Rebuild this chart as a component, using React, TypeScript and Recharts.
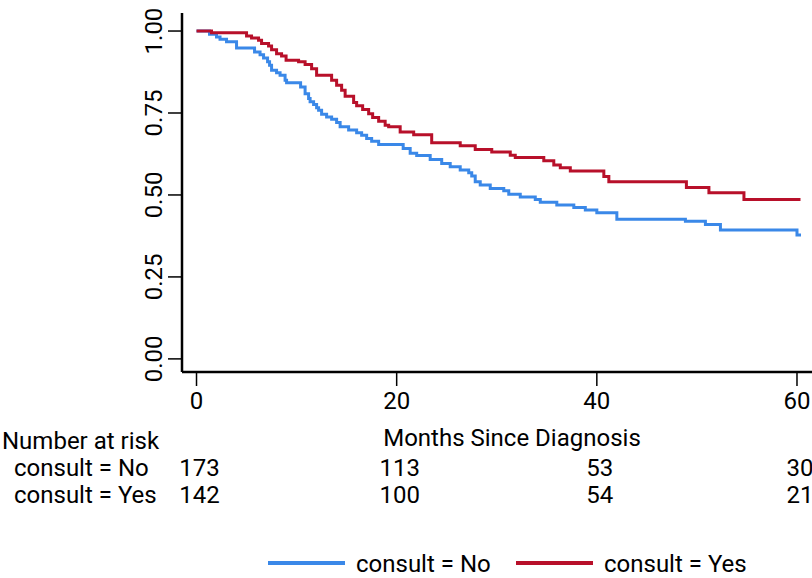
import { Legend, Line, LineChart, XAxis, YAxis } from 'recharts'

// Kaplan-Meier estimates (time in months, survival prob)
const noTimes = [
  0, 1.3, 2.0, 2.35, 3.0, 4.0, 5.8, 6.35, 6.7, 7.1, 7.3, 7.5, 8.0, 8.35, 8.85,
  9.0, 10.4, 10.85, 11.2, 11.35, 11.7, 12.0, 12.2, 12.5, 13.0, 13.5, 14.0,
  14.35, 15.2, 16.0, 16.5, 17.0, 17.5, 18.2, 20.65, 21.35, 22.0, 23.35, 24.5,
  25.35, 26.35, 27.2, 27.5, 27.85, 28.35, 29.35, 30.7, 31.2, 32.35, 33.85,
  34.35, 36.0, 37.7, 38.85, 40.0, 42.0, 48.85, 50.85, 52.35, 60.0, 60.4,
]
const noSurv = [
  1.0, 0.99, 0.982, 0.975, 0.967, 0.948, 0.936, 0.928, 0.918, 0.906, 0.896,
  0.88, 0.873, 0.865, 0.85, 0.842, 0.829, 0.809, 0.794, 0.784, 0.776, 0.766,
  0.758, 0.746, 0.738, 0.731, 0.721, 0.708, 0.698, 0.69, 0.682, 0.672, 0.664,
  0.654, 0.642, 0.627, 0.62, 0.608, 0.596, 0.586, 0.576, 0.568, 0.558, 0.54,
  0.53, 0.52, 0.513, 0.502, 0.494, 0.486, 0.478, 0.469, 0.462, 0.454, 0.446,
  0.426, 0.42, 0.41, 0.393, 0.378, 0.378,
]

const yesTimes = [
  0, 1.5, 5.0, 5.5, 6.2, 6.5, 7.2, 7.5, 8.0, 8.5, 8.95, 10.2, 10.85, 11.5,
  12.0, 13.5, 14.0, 14.5, 14.85, 15.7, 16.0, 16.6, 17.2, 17.6, 18.2, 18.85,
  19.2, 20.35, 21.7, 23.5, 26.35, 27.85, 29.5, 31.35, 31.85, 34.7, 35.7, 36.35,
  37.35, 40.7, 41.2, 48.95, 51.2, 54.7, 60.35,
]
const yesSurv = [
  1.0, 0.995, 0.985, 0.979, 0.972, 0.962, 0.954, 0.943, 0.931, 0.924, 0.911,
  0.906, 0.898, 0.885, 0.865, 0.85, 0.835, 0.819, 0.801, 0.782, 0.772, 0.761,
  0.748, 0.736, 0.725, 0.713, 0.708, 0.692, 0.684, 0.659, 0.65, 0.639, 0.631,
  0.621, 0.614, 0.604, 0.591, 0.583, 0.573, 0.556, 0.54, 0.523, 0.507, 0.486,
  0.486,
]

const xTicks = [0, 20, 40, 60]
const yTicks = [0, 0.25, 0.5, 0.75, 1]
const riskNo = [173, 113, 53, 30]
const riskYes = [142, 100, 54, 21]

const groups = [
  { name: 'consult = No', color: '#3a88e8', times: noTimes, surv: noSurv },
  { name: 'consult = Yes', color: '#b8102a', times: yesTimes, surv: yesSurv },
]

const font = 'Roboto, sans-serif'
const fontSize = 24

const X_MIN = -1.45
const X_MAX = 61.5
const PLOT_LEFT = 182
const PLOT_W = 630
const xPos = (t: number) => PLOT_LEFT + ((t - X_MIN) / (X_MAX - X_MIN)) * PLOT_W

function YTick(props: any) {
  const { x, y, payload } = props
  const bx = x - 4
  return (
    <text
      x={bx}
      y={y}
      transform={`rotate(-90, ${bx}, ${y})`}
      textAnchor="middle"
      fill="#000"
      fontFamily={font}
      fontSize={fontSize}
    >
      {Number(payload.value).toFixed(2)}
    </text>
  )
}

function LegendContent() {
  return (
    <svg width={560} height={34}>
      {groups.map((g, i) => {
        const x0 = i * 248
        return (
          <g key={g.name}>
            <line x1={x0} x2={x0 + 77} y1={16} y2={16} stroke={g.color} strokeWidth={4} />
            <text x={x0 + 88} y={25} fontFamily={font} fontSize={fontSize} fill="#000">
              {g.name}
            </text>
          </g>
        )
      })}
    </svg>
  )
}

export default function App() {
  return (
    <div style={{ position: 'absolute', left: 0, top: 0, width: 812, height: 578, background: '#fff' }}>
      <LineChart width={812} height={578} margin={{ top: 13, right: 0, bottom: 176, left: 0 }}>
        <XAxis
          type="number"
          dataKey="t"
          domain={[X_MIN, X_MAX]}
          ticks={xTicks}
          allowDuplicatedCategory={false}
          height={30}
          axisLine={{ stroke: '#000', strokeWidth: 2.5 }}
          tickLine={{ stroke: '#000', strokeWidth: 1.5 }}
          tickSize={14}
          tickMargin={6}
          tick={{ fill: '#000', fontFamily: font, fontSize }}
        />
        <YAxis
          type="number"
          dataKey="s"
          width={182}
          domain={[-0.04, 1.055]}
          ticks={yTicks}
          axisLine={{ stroke: '#000', strokeWidth: 2.5 }}
          tickLine={{ stroke: '#000', strokeWidth: 1.5 }}
          tickSize={14}
          tickMargin={2}
          tick={<YTick />}
        />
        {groups.map((g) => (
          <Line
            key={g.name}
            name={g.name}
            data={g.times.map((t, i) => ({ t, s: g.surv[i] }))}
            dataKey="s"
            type="stepAfter"
            stroke={g.color}
            strokeWidth={3}
            dot={false}
            activeDot={false}
            isAnimationActive={false}
          />
        ))}
        <Legend
          verticalAlign="middle"
          align="center"
          content={<LegendContent />}
          wrapperStyle={{ top: 547, left: 268, width: 560 }}
        />
      </LineChart>
      <svg
        width={812}
        height={578}
        style={{ position: 'absolute', left: 0, top: 0, pointerEvents: 'none' }}
        fontFamily={font}
        fontSize={fontSize}
      >
        <text x={512} y={446} textAnchor="middle">Months Since Diagnosis</text>
        <text x={2} y={449}>Number at risk</text>
        <text x={14} y={476}>consult = No</text>
        <text x={14} y={503}>consult = Yes</text>
        {xTicks.map((t, i) => (
          <g key={t}>
            <text x={xPos(t) + 3} y={476} textAnchor="middle">{riskNo[i]}</text>
            <text x={xPos(t) + 3} y={503} textAnchor="middle">{riskYes[i]}</text>
          </g>
        ))}
      </svg>
    </div>
  )
}
